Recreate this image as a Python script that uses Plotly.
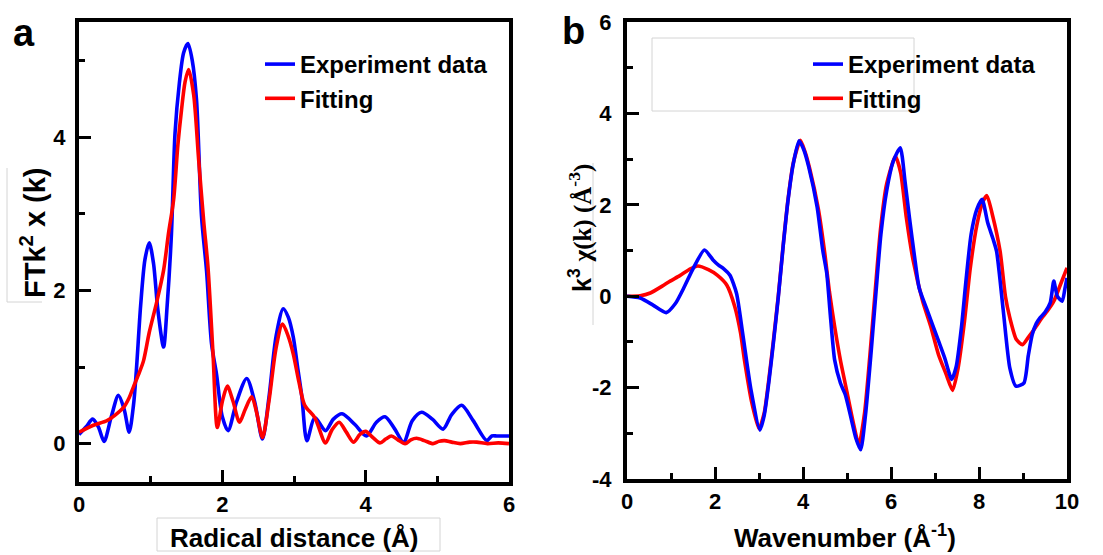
import plotly.graph_objects as go

# ---------------- Panel a data (R-space) ----------------
a_exp_x = [0.00, 0.10, 0.19, 0.27, 0.35, 0.45, 0.55, 0.63, 0.70, 0.76, 0.80, 0.86, 0.92, 0.98,
           1.04, 1.10, 1.18, 1.23, 1.29, 1.34, 1.40, 1.46, 1.52, 1.58, 1.64, 1.71, 1.78, 1.85,
           1.92, 2.00, 2.08, 2.20, 2.34, 2.45, 2.56, 2.65, 2.75, 2.85, 2.92, 2.99, 3.05, 3.11,
           3.18, 3.29, 3.44, 3.55, 3.67, 3.85, 4.01, 4.15, 4.27, 4.40, 4.53, 4.65, 4.78, 4.93,
           5.08, 5.20, 5.34, 5.50, 5.69, 5.76, 5.83, 5.92, 6.00]
a_exp_y = [0.12, 0.22, 0.32, 0.22, 0.03, 0.35, 0.63, 0.45, 0.15, 0.50, 0.95, 1.80, 2.40, 2.62,
           2.35, 1.75, 1.26, 1.80, 2.74, 4.05, 4.70, 5.10, 5.22, 5.00, 4.48, 2.96, 2.25, 1.30,
           0.90, 0.35, 0.17, 0.55, 0.85, 0.55, 0.06, 0.60, 1.40, 1.76, 1.65, 1.39, 1.00, 0.61,
           0.04, 0.34, 0.17, 0.32, 0.39, 0.25, 0.10, 0.28, 0.35, 0.20, 0.02, 0.30, 0.41, 0.32,
           0.19, 0.38, 0.50, 0.30, 0.04, 0.10, 0.10, 0.10, 0.10]

a_fit_x = [0.00, 0.20, 0.39, 0.50, 0.62, 0.70, 0.76, 0.83, 0.90, 0.98, 1.08, 1.18, 1.25, 1.32,
           1.38, 1.43, 1.48, 1.53, 1.60, 1.67, 1.74, 1.80, 1.87, 1.93, 2.00, 2.07, 2.15, 2.24,
           2.32, 2.41, 2.48, 2.56, 2.65, 2.75, 2.84, 2.92, 2.99, 3.07, 3.15, 3.29, 3.44, 3.53,
           3.63, 3.73, 3.83, 3.92, 4.00, 4.10, 4.20, 4.28, 4.36, 4.45, 4.55, 4.63, 4.71, 4.82,
           4.94, 5.02, 5.10, 5.20, 5.32, 5.45, 5.55, 5.70, 5.85, 6.00]
a_fit_y = [0.15, 0.24, 0.30, 0.37, 0.47, 0.60, 0.74, 0.90, 1.08, 1.45, 1.83, 2.26, 2.75, 3.18,
           3.90, 4.35, 4.72, 4.88, 4.55, 3.70, 2.90, 2.30, 1.17, 0.21, 0.55, 0.75, 0.55, 0.28,
           0.45, 0.61, 0.40, 0.08, 0.55, 1.25, 1.56, 1.40, 1.17, 0.80, 0.50, 0.34, 0.01, 0.18,
           0.28, 0.15, 0.02, 0.12, 0.16, 0.08, 0.01, 0.06, 0.10, 0.05, 0.00, 0.05, 0.07, 0.04,
           0.00, 0.03, 0.04, 0.02, 0.00, 0.02, 0.02, 0.00, 0.01, 0.00]

# ---------------- Panel b data (k-space) ----------------
b_exp_x = [0.00, 0.30, 0.60, 0.89, 1.10, 1.30, 1.50, 1.76, 1.95, 2.08, 2.20, 2.34, 2.49, 2.63,
           2.82, 3.02, 3.12, 3.22, 3.33, 3.44, 3.55, 3.66, 3.78, 3.91, 4.02, 4.13, 4.32, 4.45,
           4.54, 4.62, 4.72, 4.85, 4.96, 5.10, 5.20, 5.31, 5.42, 5.55, 5.66, 5.77, 5.90, 6.05,
           6.21, 6.32, 6.42, 6.53, 6.64, 6.82, 7.08, 7.22, 7.38, 7.48, 7.60, 7.70, 7.82, 7.95,
           8.07, 8.20, 8.32, 8.40, 8.55, 8.70, 8.84, 9.02, 9.12, 9.21, 9.30, 9.39, 9.50, 9.62,
           9.70, 9.78, 9.89, 9.95, 10.00]
b_exp_y = [0.00, -0.04, -0.20, -0.36, -0.16, 0.20, 0.60, 1.01, 0.80, 0.68, 0.60, 0.46, 0.06, -0.82,
           -2.06, -2.93, -2.60, -1.91, -1.00, -0.01, 1.10, 2.10, 2.90, 3.40, 3.20, 2.83, 1.96, 1.00,
           0.50, -0.40, -1.40, -1.90, -2.15, -2.70, -3.10, -3.36, -2.60, -1.20, 0.10, 1.35, 2.30, 2.95,
           3.25, 2.50, 1.71, 0.90, 0.18, -0.30, -0.98, -1.35, -1.82, -1.55, -0.69, 0.30, 1.35, 1.90,
           2.12, 1.60, 1.25, 0.98, -0.30, -1.57, -1.97, -1.90, -1.30, -0.84, -0.60, -0.47, -0.35, -0.14,
           0.33, 0.00, -0.11, 0.15, 0.40]

b_fit_x = [0.00, 0.30, 0.53, 0.80, 0.98, 1.20, 1.44, 1.61, 1.85, 2.05, 2.27, 2.45, 2.58, 2.67,
           2.83, 3.00, 3.12, 3.22, 3.33, 3.44, 3.55, 3.66, 3.78, 3.94, 4.05, 4.15, 4.35, 4.50,
           4.60, 4.72, 4.85, 5.00, 5.15, 5.27, 5.40, 5.52, 5.64, 5.76, 5.90, 6.10, 6.22, 6.35,
           6.50, 6.72, 6.90, 7.08, 7.25, 7.40, 7.52, 7.67, 7.80, 7.95, 8.08, 8.18, 8.30, 8.48,
           8.60, 8.70, 8.85, 8.99, 9.12, 9.28, 9.45, 9.55, 9.70, 9.85, 10.00]
b_fit_y = [0.00, 0.01, 0.07, 0.22, 0.33, 0.45, 0.60, 0.66, 0.58, 0.46, 0.24, -0.23, -0.80, -1.40,
           -2.30, -2.90, -2.55, -1.85, -0.95, 0.02, 1.12, 2.12, 2.92, 3.41, 3.15, 2.80, 1.90, 0.90,
           0.10, -0.67, -1.40, -2.10, -2.80, -3.25, -2.55, -1.30, 0.10, 1.45, 2.45, 3.06, 2.70, 1.71,
           0.80, -0.11, -0.65, -1.28, -1.70, -2.06, -1.60, -0.55, 0.60, 1.55, 2.05, 2.20, 1.80, 0.98,
           0.00, -0.47, -0.95, -1.06, -0.90, -0.69, -0.45, -0.33, -0.11, 0.25, 0.62]

a_yticks = [0, 2, 4]
a_xticks = [0, 2, 4, 6]
b_yticks = [-4, -2, 0, 2, 4, 6]
b_xticks = [0, 2, 4, 6, 8, 10]

BLUE = "#0000FF"
RED = "#FF0000"
FONT = "Liberation Sans"
W, H = 1103, 555


def px(x):
    return x / W


def py(y):
    return 1 - y / H


fig = go.Figure()

# Panel a: blue under red
fig.add_trace(go.Scatter(x=a_exp_x, y=a_exp_y, mode="lines", name="Experiment data",
                         line=dict(color=BLUE, width=3.6, shape="spline", smoothing=0.8),
                         xaxis="x", yaxis="y", legend="legend", legendgroup="a1"))
fig.add_trace(go.Scatter(x=a_fit_x, y=a_fit_y, mode="lines", name="Fitting",
                         line=dict(color=RED, width=3.6, shape="spline", smoothing=0.8),
                         xaxis="x", yaxis="y", legend="legend", legendgroup="a2"))
# Panel b: red under blue
fig.add_trace(go.Scatter(x=b_fit_x, y=b_fit_y, mode="lines", name="Fitting",
                         line=dict(color=RED, width=3.6, shape="spline", smoothing=0.6),
                         xaxis="x2", yaxis="y2", legend="legend2", legendgroup="b2", legendrank=2))
fig.add_trace(go.Scatter(x=b_exp_x, y=b_exp_y, mode="lines", name="Experiment data",
                         line=dict(color=BLUE, width=3.6, shape="spline", smoothing=0.6),
                         xaxis="x2", yaxis="y2", legend="legend2", legendgroup="b1", legendrank=1))

tickfont = dict(family=FONT, size=22, color="black", weight="bold")

common = dict(showline=True, linecolor="black", linewidth=4, mirror=True,
              ticks="inside", ticklen=12, tickwidth=3, tickcolor="black",
              showgrid=False, zeroline=False, tickfont=tickfont, automargin=False,
              minor=dict(ticks="inside", ticklen=6, tickwidth=3, tickcolor="black", dtick=1, showgrid=False))


def bold(v):
    return "<b>%s</b>" % v


legend_font = dict(family=FONT, size=24, color="black", weight="bold")

fig.update_layout(
    width=W, height=H,
    margin=dict(l=0, r=0, t=0, b=0, autoexpand=False),
    paper_bgcolor="white", plot_bgcolor="white",
    font=dict(family=FONT, color="black"),
    xaxis=dict(domain=[px(79), px(509)], range=[0, 6], anchor="y",
               tickvals=a_xticks, ticktext=[bold(v) for v in a_xticks],
               ticklabelstandoff=0, **common),
    yaxis=dict(domain=[py(482), py(22)], range=[-0.5, 5.5], anchor="x",
               tickvals=a_yticks, ticktext=[bold(v) for v in a_yticks],
               ticklabelstandoff=5, **common),
    xaxis2=dict(domain=[px(627), px(1067)], range=[0, 10], anchor="y2",
                tickvals=b_xticks, ticktext=[bold(v) for v in b_xticks],
                ticklabelstandoff=0, **common),
    yaxis2=dict(domain=[py(479), py(22)], range=[-4, 6], anchor="x2",
                tickvals=b_yticks, ticktext=[bold(v) for v in b_yticks],
                ticklabelstandoff=7, **common),
    legend=dict(x=px(260), y=py(42), xanchor="left", yanchor="top",
                font=legend_font, bgcolor="rgba(0,0,0,0)", tracegroupgap=2,
                itemwidth=30, traceorder="normal"),
    legend2=dict(x=px(808), y=py(42), xanchor="left", yanchor="top",
                 font=legend_font, bgcolor="rgba(0,0,0,0)", tracegroupgap=2,
                 itemwidth=30, traceorder="normal"),
    showlegend=True,
)

# axis titles
fig.add_annotation(text="<b>Radical distance (Å)</b>", x=px(294), y=py(538), xref="paper", yref="paper",
                   xanchor="center", yanchor="middle", showarrow=False,
                   font=dict(family=FONT, size=26, color="black"))
fig.add_annotation(text="<b>Wavenumber (Å<sup>-1</sup>)</b>", x=px(845), y=py(536), xref="paper", yref="paper",
                   xanchor="center", yanchor="middle", showarrow=False,
                   font=dict(family=FONT, size=26, color="black"))
fig.add_annotation(text="<b>FTk<sup>2</sup> x (k)</b>", x=px(33), y=py(233), xref="paper", yref="paper",
                   xanchor="center", yanchor="middle", showarrow=False, textangle=-90,
                   font=dict(family=FONT, size=29, color="black"))
fig.add_annotation(text="<b>k<sup>3</sup></b> <span style='font-family:Liberation Serif'><b>χ(k) (Å<sup>-3</sup>)</b></span>",
                   x=px(580), y=py(228), xref="paper", yref="paper",
                   xanchor="center", yanchor="middle", showarrow=False, textangle=-90,
                   font=dict(family=FONT, size=25, color="black"))

# panel letters
fig.add_annotation(text="<b>a</b>", x=px(24), y=py(33), xref="paper", yref="paper",
                   xanchor="center", yanchor="middle", showarrow=False,
                   font=dict(family=FONT, size=38, color="black"))
fig.add_annotation(text="<b>b</b>", x=px(573), y=py(31), xref="paper", yref="paper",
                   xanchor="center", yanchor="middle", showarrow=False,
                   font=dict(family=FONT, size=38, color="black"))

# faint boxes seen in the reference
GRAY = "#d4d4d4"
fig.add_shape(type="rect", xref="paper", yref="paper", x0=px(652), x1=px(914), y0=py(111), y1=py(38),
              line=dict(color=GRAY, width=1), layer="below")
fig.add_shape(type="rect", xref="paper", yref="paper", x0=px(157), x1=px(440), y0=py(551), y1=py(518),
              line=dict(color=GRAY, width=1), layer="below")
fig.add_shape(type="line", xref="paper", yref="paper", x0=px(7), x1=px(7), y0=py(302), y1=py(168),
              line=dict(color=GRAY, width=1), layer="below")
fig.add_shape(type="line", xref="paper", yref="paper", x0=px(7), x1=px(42), y0=py(302), y1=py(302),
              line=dict(color=GRAY, width=1), layer="below")
fig.add_shape(type="line", xref="paper", yref="paper", x0=px(593), x1=px(593), y0=py(325), y1=py(163),
              line=dict(color=GRAY, width=1), layer="below")

fig.write_html("out.html")
